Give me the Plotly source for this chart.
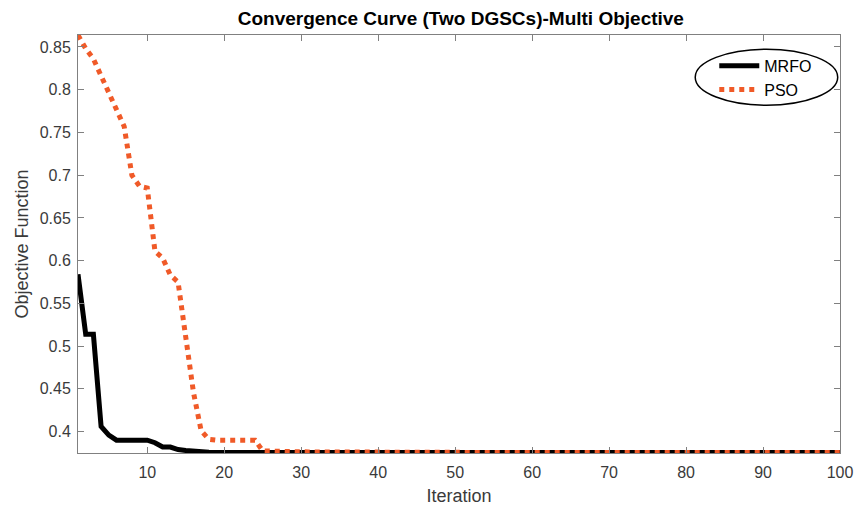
import plotly.graph_objects as go

# Iteration index and best objective value per iteration for each optimizer
iterations = list(range(1, 101))

mrfo = [
    0.584, 0.514, 0.514, 0.406, 0.396, 0.390, 0.390, 0.390, 0.390, 0.390,
    0.387, 0.382, 0.382, 0.379, 0.378, 0.377, 0.3765, 0.376, 0.3757, 0.3757,
    0.3757, 0.3757, 0.3757, 0.3757, 0.3757, 0.3757, 0.3757, 0.3757, 0.3757, 0.3757,
    0.3757, 0.3757, 0.3757, 0.3757, 0.3757, 0.3757, 0.3757, 0.3757, 0.3757, 0.3757,
    0.3757, 0.3757, 0.3757, 0.3757, 0.3757, 0.3757, 0.3757, 0.3757, 0.3757, 0.3757,
    0.3757, 0.3757, 0.3757, 0.3757, 0.3757, 0.3757, 0.3757, 0.3757, 0.3757, 0.3757,
    0.3757, 0.3757, 0.3757, 0.3757, 0.3757, 0.3757, 0.3757, 0.3757, 0.3757, 0.3757,
    0.3757, 0.3757, 0.3757, 0.3757, 0.3757, 0.3757, 0.3757, 0.3757, 0.3757, 0.3757,
    0.3757, 0.3757, 0.3757, 0.3757, 0.3757, 0.3757, 0.3757, 0.3757, 0.3757, 0.3757,
    0.3757, 0.3757, 0.3757, 0.3757, 0.3757, 0.3757, 0.3757, 0.3757, 0.3757, 0.3757,
]

pso = [
    0.864, 0.848, 0.836, 0.816, 0.797, 0.776, 0.757, 0.700, 0.687, 0.685,
    0.611, 0.603, 0.583, 0.575, 0.508, 0.446, 0.401, 0.391, 0.390, 0.390,
    0.390, 0.390, 0.390, 0.390, 0.3775, 0.3770, 0.3768, 0.3766, 0.3765, 0.3764,
    0.3763, 0.3762, 0.3761, 0.3760, 0.3759, 0.3758, 0.3757, 0.3757, 0.3757, 0.3757,
    0.3757, 0.3757, 0.3757, 0.3757, 0.3757, 0.3757, 0.3757, 0.3757, 0.3757, 0.3757,
    0.3757, 0.3757, 0.3757, 0.3757, 0.3757, 0.3757, 0.3757, 0.3757, 0.3757, 0.3757,
    0.3757, 0.3757, 0.3757, 0.3757, 0.3757, 0.3757, 0.3757, 0.3757, 0.3757, 0.3757,
    0.3757, 0.3757, 0.3757, 0.3757, 0.3757, 0.3757, 0.3757, 0.3757, 0.3757, 0.3757,
    0.3757, 0.3757, 0.3757, 0.3757, 0.3757, 0.3757, 0.3757, 0.3757, 0.3757, 0.3757,
    0.3757, 0.3757, 0.3757, 0.3757, 0.3757, 0.3757, 0.3757, 0.3757, 0.3757, 0.3757,
]

x_ticks = [10, 20, 30, 40, 50, 60, 70, 80, 90, 100]
y_ticks = [0.4, 0.45, 0.5, 0.55, 0.6, 0.65, 0.7, 0.75, 0.8, 0.85]
y_tick_text = ["0.4", "0.45", "0.5", "0.55", "0.6", "0.65", "0.7", "0.75", "0.8", "0.85"]

FONT = "Liberation Sans, Arial, sans-serif"
AXIS_GREY = "#808080"
TEXT_GREY = "#3a3a3a"

fig = go.Figure()
fig.add_trace(go.Scatter(
    x=iterations, y=mrfo, name="MRFO", mode="lines",
    line=dict(color="black", width=5),
))
fig.add_trace(go.Scatter(
    x=iterations, y=pso, name="PSO", mode="lines",
    line=dict(color="#F05A28", width=5, dash="5px,5px"),
))

axis_common = dict(
    showline=True, linecolor=AXIS_GREY, linewidth=1, mirror="allticks",
    ticks="inside", ticklen=6, tickcolor=AXIS_GREY,
    showgrid=False, zeroline=False, automargin=False,
    tickfont=dict(family=FONT, size=16, color=TEXT_GREY),
)

fig.update_layout(
    width=863, height=506,
    margin=dict(l=78, r=23, t=35, b=53),
    paper_bgcolor="white", plot_bgcolor="white",
    title=dict(
        text="<b>Convergence Curve (Two DGSCs)-Multi Objective</b>",
        font=dict(family=FONT, size=19, color="black"),
        x=0.534, xanchor="center", xref="container",
        y=0.963, yanchor="middle", yref="container",
    ),
    xaxis=dict(
        range=[1, 100], tickvals=x_ticks, ticklabelstandoff=5,
        title=dict(text="Iteration", font=dict(family=FONT, size=18, color=TEXT_GREY), standoff=10),
        **axis_common,
    ),
    yaxis=dict(
        range=[0.375, 0.864], tickvals=y_ticks, ticktext=y_tick_text, ticklabelstandoff=3,
        title=dict(text="Objective Function", font=dict(family=FONT, size=18, color=TEXT_GREY), standoff=6),
        **axis_common,
    ),
    legend=dict(
        x=0.835, y=0.967, xanchor="left", yanchor="top",
        bgcolor="rgba(0,0,0,0)", borderwidth=0,
        font=dict(family=FONT, size=16, color="black"),
        tracegroupgap=0, itemwidth=40,
    ),
    showlegend=True,
)

# Oval frame around the legend
fig.add_shape(
    type="circle", xref="paper", yref="paper",
    x0=0.81, x1=0.997, y0=0.832, y1=0.966,
    line=dict(color="black", width=1.5), fillcolor="rgba(0,0,0,0)",
)

fig.write_html("out.html")
